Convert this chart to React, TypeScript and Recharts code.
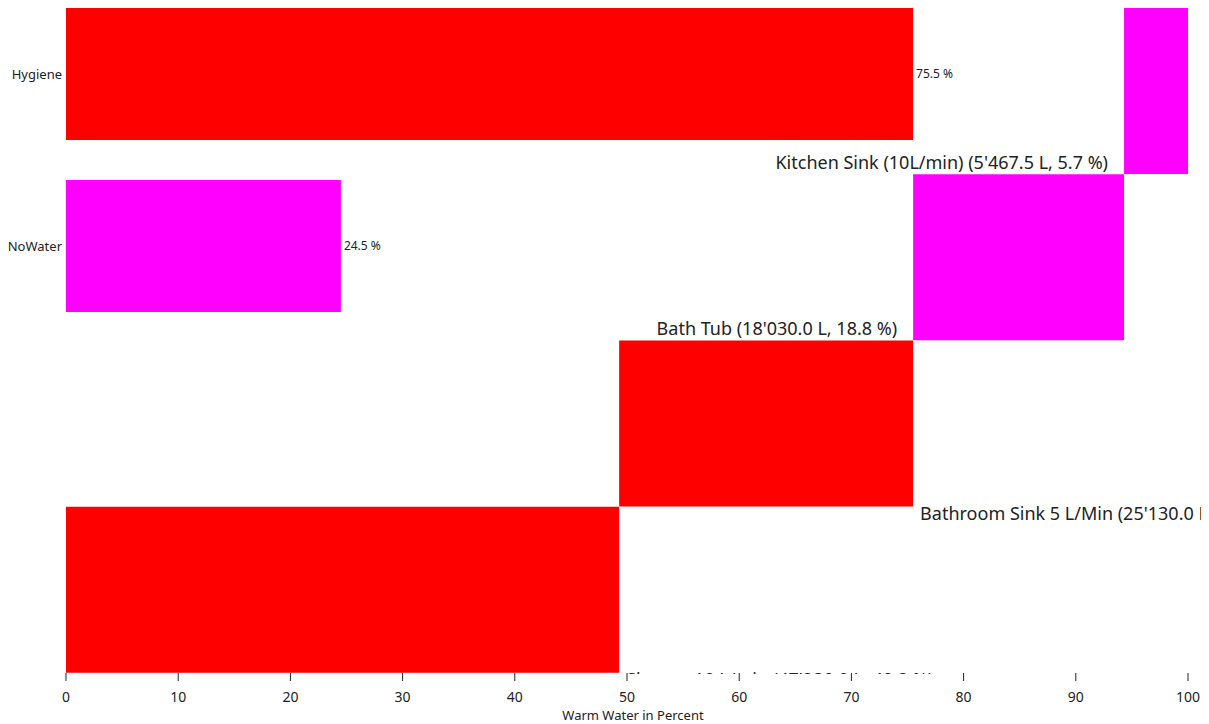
import React from "react";
import { BarChart, Bar, Cell, LabelList, XAxis, YAxis } from "recharts";

// totals per group
const groupNames = ["Hygiene", "NoWater"];
const groupShares = [75.5, 24.5];
const groupColors = ["#ff0000", "#ff00ff"];

// consumers, top to bottom
const blockLabels = [
  "Kitchen Sink (10L/min) (5'467.5 L, 5.7 %)",
  "Bath Tub (18'030.0 L, 18.8 %)",
  "Bathroom Sink 5 L/Min (25'130.0 L, 26.2 %)",
  "Shower 10 L/min (47'280.0 L, 49.3 %)",
];
const blockShares = [5.7, 18.8, 26.2, 49.3];
const blockGroups = ["NoWater", "NoWater", "Hygiene", "Hygiene"];

const percentTicks = [0, 10, 20, 30, 40, 50, 60, 70, 80, 90, 100];

const W = 1193;
const H = 716;
const X_AXIS_H = 51;
const Y_AXIS_W = 58;
const FONT = "'Noto Sans', 'Open Sans', sans-serif";
const TEXT = "#222";

const groupData = groupNames.map((name, i) => ({
  name,
  value: groupShares[i],
}));

// waterfall: each block starts where the ones below it end
const blockData = blockLabels.map((label, i) => {
  const start = blockShares.slice(i + 1).reduce((a, b) => a + b, 0);
  return {
    name: label,
    range: [start, start + blockShares[i]],
    group: blockGroups[i],
  };
});

const BlockLabel = (props: any) => {
  const { x, y, width, height, index } = props;
  const d = blockData[index];
  const bottom = y + height;
  if (d.group === "Hygiene") {
    // text hangs below the block; the plot edge cuts the lowest one
    return (
      <g>
        <defs>
          <clipPath id={"blk-clip-" + index}>
            <rect x={0} y={0} width={W} height={H - X_AXIS_H + 1} />
          </clipPath>
        </defs>
        <text
          x={x + width + 7}
          y={bottom + 13}
          fontSize={18}
          fill={TEXT}
          fontFamily={FONT}
          clipPath={`url(#blk-clip-${index})`}
        >
          {d.name}
        </text>
      </g>
    );
  }
  return (
    <text
      x={x - 16}
      y={bottom - 5}
      fontSize={18}
      fill={TEXT}
      fontFamily={FONT}
      textAnchor="end"
    >
      {d.name}
    </text>
  );
};

export default function App() {
  return (
    <div style={{ position: "relative", width: W, height: H, fontFamily: FONT }}>
      <BarChart
        width={W}
        height={H}
        data={blockData}
        layout="vertical"
        barCategoryGap={0}
        margin={{ top: 0, right: 13, bottom: 0, left: Y_AXIS_W }}
      >
        <XAxis
          type="number"
          domain={[0, 100]}
          ticks={percentTicks}
          axisLine={false}
          tickSize={8}
          tickMargin={11}
          height={X_AXIS_H}
          tick={{ fontSize: 14, fill: TEXT, fontFamily: FONT }}
          tickLine={{ stroke: "#222" }}
          label={{
            value: "Warm Water in Percent",
            position: "insideBottom",
            offset: 4,
            dx: 6,
            fontSize: 13,
            fill: TEXT,
            fontFamily: FONT,
          }}
        />
        <YAxis type="category" dataKey="name" hide />
        <Bar dataKey="range" isAnimationActive={false}>
          {blockData.map((d) => (
            <Cell
              key={d.name}
              fill={groupColors[groupNames.indexOf(d.group)]}
            />
          ))}
          <LabelList dataKey="name" content={BlockLabel} />
        </Bar>
      </BarChart>

      <div style={{ position: "absolute", left: 0, top: -20 }}>
        <BarChart
          width={W}
          height={344}
          data={groupData}
          layout="vertical"
          barCategoryGap={20}
          margin={{ top: 0, right: 13, bottom: 0, left: 0 }}
        >
          <XAxis type="number" domain={[0, 100]} hide />
          <YAxis
            type="category"
            dataKey="name"
            width={Y_AXIS_W}
            axisLine={false}
            tickLine={false}
            tickSize={0}
            tickMargin={4}
            tick={{ fontSize: 13, fill: TEXT, fontFamily: FONT }}
          />
          <Bar dataKey="value" isAnimationActive={false}>
            {groupData.map((d, i) => (
              <Cell key={d.name} fill={groupColors[i]} />
            ))}
            <LabelList
              dataKey="value"
              position="right"
              offset={3}
              formatter={(v: any) => `${v} %`}
              style={{ fontSize: 12, fill: TEXT, fontFamily: FONT }}
            />
          </Bar>
        </BarChart>
      </div>
    </div>
  );
}
